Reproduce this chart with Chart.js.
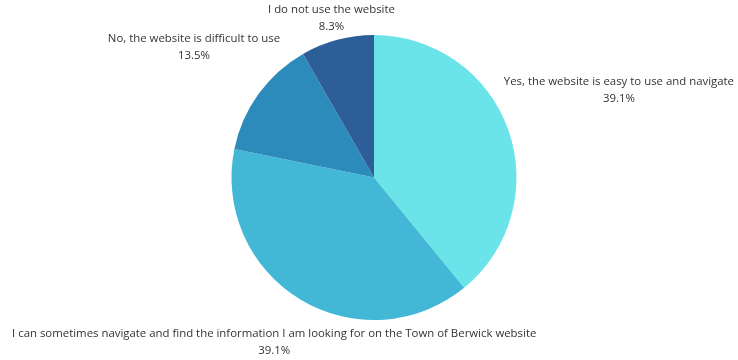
<!DOCTYPE html>
<html>
<head>
<meta charset="utf-8">
<script src="https://cdn.jsdelivr.net/npm/chart.js@4.4.0/dist/chart.umd.min.js"></script>
<style>
  html, body { margin: 0; padding: 0; background: #ffffff; }
  #wrap { width: 738px; height: 360px; }
</style>
</head>
<body>
<div id="wrap"><canvas id="myChart" width="738" height="360"></canvas></div>
<script>
// Respuestas de la encuesta sobre el sitio web
const categorias = [
    'Yes, the website is easy to use and navigate',
    'I can sometimes navigate and find the information I am looking for on the Town of Berwick website',
    'No, the website is difficult to use',
    'I do not use the website'
];
const porcentajes = [39.1, 39.1, 13.5, 8.3];
const colores = ['#6ae4e8', '#42b8d6', '#2d8bbb', '#2e5e98'];

// Distancia de cada etiqueta desde el centro del pastel
const distanciaEtiqueta = [260, 193, 222, 165];

// Dibuja el nombre y el porcentaje de cada porción fuera del pastel
const etiquetasExternas = {
    id: 'etiquetasExternas',
    afterDraw(chart) {
        const ctx = chart.ctx;
        const meta = chart.getDatasetMeta(0);
        ctx.save();
        ctx.fillStyle = '#333333';
        ctx.font = '11.4px "Open Sans", sans-serif';
        ctx.textAlign = 'center';
        ctx.textBaseline = 'middle';
        meta.data.forEach((arc, i) => {
            const ang = (arc.startAngle + arc.endAngle) / 2;
            const d = distanciaEtiqueta[i];
            const x = arc.x + Math.cos(ang) * d;
            const y = arc.y + Math.sin(ang) * d;
            ctx.fillText(chart.data.labels[i], x, y - 8.5);
            ctx.fillText(porcentajes[i].toFixed(1) + '%', x, y + 8.5);
        });
        ctx.restore();
    }
};

const ctx = document.getElementById('myChart').getContext('2d');
const chart = new Chart(ctx, {
    type: 'pie',
    data: {
        labels: categorias,
        datasets: [{
            data: porcentajes,
            backgroundColor: colores,
            borderWidth: 0
        }]
    },
    options: {
        responsive: false,
        animation: false,
        layout: {
            padding: { top: 35, bottom: 40, left: 10, right: 0 }
        },
        plugins: {
            legend: { display: false },
            tooltip: { enabled: false }
        }
    },
    plugins: [etiquetasExternas]
});
</script>
</body>
</html>
